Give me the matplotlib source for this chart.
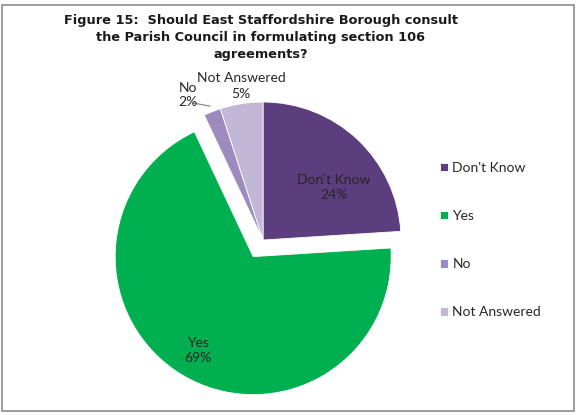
import numpy as np
import matplotlib.pyplot as plt
from matplotlib.patches import Rectangle

categories = ["Don't Know", "Yes", "No", "Not Answered"]
shares = [24, 69, 2, 5]
colors = ["#5c3d7e", "#00b050", "#9d8bc0", "#c3b7d8"]
title = ("Figure 15:  Should East Staffordshire Borough consult\n"
         "the Parish Council in formulating section 106\nagreements?")

W, H = 578, 415
fig = plt.figure(figsize=(W / 100, H / 100), dpi=100)
ax = fig.add_axes([0, 0, 1, 1])

# pixel-like axes so the pie sits where it should
cx, cy, r = 263, H - 240, 138
explode = [0, 0.14 * r, 0, 0]   # pie's explode is in data units
wedges, _ = ax.pie(shares, colors=colors, startangle=90, counterclock=False,
                   center=(cx, cy), radius=r, explode=explode,
                   wedgeprops=dict(edgecolor="white", linewidth=0.6))
ax.set_xlim(0, W)
ax.set_ylim(0, H)
ax.set_aspect("auto")
ax.axis("off")

lab_font = dict(family="Lato", fontsize=10, color="#262626")

# labels inside the two big slices
for i, frac in [(0, 0.64), (1, 0.79)]:
    w = wedges[i]
    mid = np.deg2rad((w.theta1 + w.theta2) / 2)
    if i == 0:
        mid -= np.deg2rad(10)
    wx, wy = w.center
    ax.text(wx + frac * r * np.cos(mid), wy + frac * r * np.sin(mid),
            f"{categories[i]}\n{shares[i]}%", ha="center", va="center",
            linespacing=1.3, **lab_font)

# outside labels for the small slices
ax.text(cx - 75, H - 95, f"{categories[2]}\n{shares[2]}%", ha="center",
        va="center", linespacing=1.3, **lab_font)
ax.text(cx - 22, H - 86, f"{categories[3]}\n{shares[3]}%", ha="center",
        va="center", linespacing=1.3, **lab_font)
w = wedges[2]
mid = np.deg2rad((w.theta1 + w.theta2) / 2)
ex, ey = cx + (r + 6) * np.cos(mid), cy + (r + 6) * np.sin(mid)
ax.plot([cx - 70, ex], [H - 103, ey], color="#7f7f7f", lw=0.8)

fig.text(261 / W, 1 - 14 / H, title, ha="center", va="top", fontsize=9.3,
         fontweight="bold", family="DejaVu Sans", linespacing=1.38,
         color="#1a1a1a")

fig.legend(wedges, categories, loc="center left",
           bbox_to_anchor=(440 / W, 1 - 240 / H), frameon=False,
           borderpad=0, borderaxespad=0, labelspacing=2.6,
           handlelength=0.6, handleheight=0.6, handletextpad=0.3,
           prop=dict(family="Lato", size=10), labelcolor="#262626")

fig.patches.append(Rectangle((2 / W, 4 / H), 572 / W, 406 / H,
                             transform=fig.transFigure, fill=False,
                             edgecolor="#8c8c8c", lw=1.2))

fig.savefig("out.png", dpi=100)
